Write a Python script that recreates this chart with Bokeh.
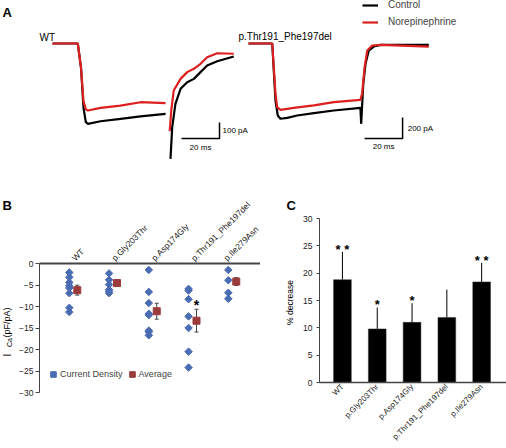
from math import pi
from bokeh.plotting import figure
from bokeh.layouts import column, row
from bokeh.models import Range1d, Legend, LegendItem, Label, FixedTicker
from bokeh.core.properties import value
from bokeh.embed import file_html
from bokeh.resources import INLINE

FONT = "Liberation Sans"
nan = float("nan")
RED = "#dd1f1f"
BLUE = "#4a6cb3"
MAROON = "#9b3b3b"

# ---------------- Panel A: current traces (time in ms, current in pA) ----------------
wt_ctrl_t = [0, 13.3, 15.0, 16.3, 17.5, 18.6, 25.3, 35.8, 46.3, 59.5, nan,
             62.1, 63.0, 64.7, 67.4, 70.9, 74.4, 77.9, 81.4, 86.7, 95.4]
wt_ctrl_i = [0, 0, -150, -400, -490, -502, -486, -471, -456, -440, nan,
             -721, -523, -377, -283, -242, -221, -179, -138, -111, -81]
wt_ne_t = [0, 13.3, 15.0, 16.3, 17.5, 18.6, 25.3, 35.8, 46.3, 59.5, nan,
           61.7, 62.5, 63.8, 67.4, 70.9, 74.4, 77.9, 81.4, 86.7, 95.4]
wt_ne_i = [0, 0, -150, -360, -410, -419, -402, -388, -367, -373, nan,
           -548, -419, -294, -221, -179, -158, -127, -86, -61, -64]

mut_ctrl_t = [0, 12.5, 14.2, 15.4, 16.8, 20.4, 25.6, 34.4, 44.9, 58.9, 59.3,
              60.4, 61.6, 63.3, 66.0, 69.5, 94.9]
mut_ctrl_i = [0, 0, -543, -686, -717, -708, -686, -663, -638, -613, -765,
              -384, -193, -67, -29, -13, -13]
mut_ne_t = [0, 12.5, 14.2, 15.1, 16.8, 23.9, 34.4, 44.9, 58.9, 59.8, 61.1,
            62.5, 65.1, 69.5, 94.9]
mut_ne_i = [0, 0, -479, -606, -632, -613, -590, -559, -537, -479, -225,
            -67, -19, -13, -29]

scale_ms = 20
wt_scale_pA = 100
mut_scale_pA = 200

# ---------------- Panel B / C data ----------------
categories = ["WT", "p.Gly203Thr", "p.Asp174Gly", "p.Thr191_Phe197del", "p.Ile279Asn"]

wt_density = [-2.1, -3.2, -4.4, -5.2, -5.7, -6.9, -10.3, -11.3]
gly_density = [-2.3, -3.8, -4.9, -6.1, -6.5, -6.9]
asp_density = [-1.5, -6.6, -9.2, -11.7, -12.0, -15.6, -15.9, -16.7]
thr_density = [-5.9, -6.3, -8.3, -12.3, -15.0, -20.5, -24.2]
ile_density = [-1.5, -3.9, -6.8, -8.2]

avg_density = [-6.2, -4.55, -11.1, -13.3, -4.2]
sem_density = [1.15, 0.6, 1.85, 2.65, 0.9]
b_sig = ["", "", "", "*", ""]

pct_decrease = [18.8, 9.8, 11.0, 11.9, 18.4]
pct_sem = [5.1, 3.9, 3.5, 5.1, 3.5]
c_sig = ["* *", "*", "*", "", "* *"]


def lab(fig, x, y, text, size, bold=False, **kw):
    kw.setdefault("text_baseline", "alphabetic")
    fig.add_layout(Label(x=x, y=y, text=text, text_font=FONT,
                         text_font_size=f"{size}px",
                         text_font_style="bold" if bold else "normal",
                         text_color="black", **kw))


def strip(width, height):
    # a plain text strip (no axes) whose data units are pixels
    s = figure(width=width, height=height, x_range=Range1d(0, width), y_range=Range1d(0, height),
               x_axis_type=None, y_axis_type=None, output_backend="svg",
               toolbar_location=None, min_border=0)
    s.outline_line_color = None
    s.frame_align = False
    return s


# ================= Panel A =================
pa = figure(width=506, height=180, x_range=Range1d(-27.37, 238.95),
            y_range=Range1d(-856.25, 268.75), x_axis_type=None, y_axis_type=None,
            output_backend="svg", toolbar_location=None, min_border=0)
pa.outline_line_color = None
pa.frame_align = False
pa.extra_x_ranges = {"mut": Range1d(-130.53, 135.79)}
pa.extra_y_ranges = {"mut": Range1d(-1304.8, 409.5)}

r_ctrl = pa.line(wt_ctrl_t, wt_ctrl_i, line_color="black", line_width=2.2)
r_ne = pa.line(wt_ne_t, wt_ne_i, line_color=RED, line_width=2.2)
pa.line(mut_ctrl_t, mut_ctrl_i, line_color="black", line_width=2.2,
        x_range_name="mut", y_range_name="mut")
pa.line(mut_ne_t, mut_ne_i, line_color=RED, line_width=2.2,
        x_range_name="mut", y_range_name="mut")

# scale bars
wx, wy = 87.9, -594
pa.line([wx - scale_ms, wx, wx], [wy, wy, wy + wt_scale_pA], line_color="black", line_width=1.5)
mx, my = 81.1, -905
pa.line([mx - scale_ms, mx, mx], [my, my, my + mut_scale_pA], line_color="black",
        line_width=1.5, x_range_name="mut", y_range_name="mut")

lab(pa, wx + 1.6, wy + wt_scale_pA / 2, f"{wt_scale_pA} pA", 8, text_baseline="middle")
lab(pa, wx - scale_ms / 2, wy - 25, f"{scale_ms} ms", 8, text_align="center", text_baseline="top")
lab(pa, mx + 2.7, my + mut_scale_pA / 2, f"{mut_scale_pA} pA", 8, text_baseline="middle",
    x_range_name="mut", y_range_name="mut")
lab(pa, mx - scale_ms / 2, my - 35, f"{scale_ms} ms", 8, text_align="center", text_baseline="top",
    x_range_name="mut", y_range_name="mut")

lab(pa, -26.3, 196, "A", 13, bold=True)
lab(pa, -6.8, 36, "WT", 10)
lab(pa, -5.3, 67, "p.Thr191_Phe197del", 10, x_range_name="mut", y_range_name="mut")

leg_a = Legend(items=[LegendItem(label="Control", renderers=[r_ctrl]),
                      LegendItem(label="Norepinephrine", renderers=[r_ne])],
               location=(362, 153), glyph_width=16, glyph_height=10, label_height=10,
               spacing=6, padding=0, margin=0, label_standoff=10,
               label_text_font=FONT, label_text_font_size="10px",
               border_line_color=None, background_fill_alpha=0)
pa.add_layout(leg_a)

ROW_H = 268

# ================= Panel B =================
sb = strip(16, ROW_H)
lab(sb, 2, 243, "B", 13, bold=True)
lab(sb, 6.7, 92, "I", 10, angle=pi / 2, text_baseline="middle")
lab(sb, 8.6, 101.5, "Ca", 7, angle=pi / 2, text_baseline="middle")
lab(sb, 6.3, 111, "(pF/pA)", 9, angle=pi / 2, text_baseline="middle")

pb = figure(width=244, height=ROW_H, x_range=Range1d(0.15, 5.71), y_range=Range1d(-30, 0),
            x_axis_location="above", output_backend="svg", toolbar_location=None,
            min_border_left=22, min_border_right=0, min_border_top=83, min_border_bottom=56)
pb.outline_line_color = None
pb.frame_align = False
pb.grid.visible = False

groups = [wt_density, gly_density, asp_density, thr_density, ile_density]
px, py = [], []
for i, g in enumerate(groups):
    px += [i + 1 - 0.1] * len(g)
    py += g
ax = [i + 1 + 0.1 for i in range(len(categories))]
lo = [m - s for m, s in zip(avg_density, sem_density)]
hi = [m + s for m, s in zip(avg_density, sem_density)]

r_pts = pb.scatter(px, py, marker="square", angle=pi / 4, size=5.3, color=BLUE)
pb.segment(ax, lo, ax, hi, line_color="#444444", line_width=1)
pb.segment([x - 0.05 for x in ax], lo, [x + 0.05 for x in ax], lo, line_color="#444444", line_width=1)
pb.segment([x - 0.05 for x in ax], hi, [x + 0.05 for x in ax], hi, line_color="#444444", line_width=1)
r_avg = pb.scatter(ax, avg_density, marker="square", size=7, color=MAROON)
pb.text(ax, [h + 1.0 for h in hi], text=b_sig, text_font=value(FONT), text_font_size="14px",
        text_font_style="bold", text_align="center", text_baseline="alphabetic")

pb.xaxis.ticker = FixedTicker(ticks=[1, 2, 3, 4, 5])
pb.xaxis.major_label_overrides = {i + 1: c for i, c in enumerate(categories)}
pb.xaxis.major_label_orientation = pi / 4
pb.xaxis.major_tick_out = 0
pb.xaxis.minor_tick_line_color = None
pb.xaxis.axis_line_width = 2
pb.xaxis.major_label_standoff = 4
pb.yaxis.ticker = FixedTicker(ticks=[0, -5, -10, -15, -20, -25, -30])
pb.yaxis.minor_tick_line_color = None
pb.yaxis.major_tick_out = 4
pb.yaxis.major_tick_in = 0
pb.yaxis.major_label_standoff = 2
for axis in (pb.xaxis, pb.yaxis):
    axis.axis_line_color = "#444444"
    axis.major_label_text_font = FONT
    axis.major_label_text_font_size = "8.5px"
    axis.major_label_text_color = "#222222"
pb.xaxis.major_tick_line_color = None
pb.yaxis.major_tick_line_color = "#444444"

leg_b = Legend(items=[LegendItem(label="Current Density", renderers=[r_pts]),
                      LegendItem(label="Average", renderers=[r_avg])],
               orientation="horizontal", location=(7, 11), glyph_width=14, glyph_height=14,
               label_height=14, label_standoff=0, spacing=2, padding=0, margin=0,
               label_text_font=FONT, label_text_font_size="9px",
               border_line_color=None, background_fill_alpha=0)
pb.add_layout(leg_b)

# ================= Panel C =================
sc = strip(40, ROW_H)
lab(sc, 26, 243, "C", 13, bold=True)
lab(sc, 29.3, 146, "% decrease", 8.5, angle=pi / 2, text_align="center", text_baseline="middle")

pc = figure(width=206, height=ROW_H, x_range=Range1d(0.341, 5.714), y_range=Range1d(0, 30),
            output_backend="svg", toolbar_location=None,
            min_border_left=19, min_border_right=0, min_border_top=38, min_border_bottom=66)
pc.outline_line_color = None
pc.frame_align = False
pc.grid.visible = False

cx = [i + 1 for i in range(len(categories))]
ctop = [m + s for m, s in zip(pct_decrease, pct_sem)]
pc.segment(cx, pct_decrease, cx, ctop, line_color="black", line_width=1)
pc.vbar(x=cx, top=pct_decrease, width=0.51, fill_color="black", line_color="#333333", line_width=0.5)
pc.text(cx, [t + 0.5 for t in ctop], text=c_sig, text_font=value(FONT), text_font_size="13px",
        text_font_style="bold", text_align="center", text_baseline="alphabetic")

pc.xaxis.ticker = FixedTicker(ticks=cx)
pc.xaxis.major_label_overrides = {i + 1: c for i, c in enumerate(categories)}
pc.xaxis.major_label_orientation = pi / 4
pc.xaxis.major_tick_out = 0
pc.xaxis.major_tick_line_color = None
pc.xaxis.minor_tick_line_color = None
pc.xaxis.major_label_standoff = 3
pc.xaxis.axis_line_width = 1.5
pc.yaxis.ticker = FixedTicker(ticks=[0, 5, 10, 15, 20, 25, 30])
pc.yaxis.minor_tick_line_color = None
pc.yaxis.major_tick_out = 3
pc.yaxis.major_tick_in = 0
pc.yaxis.major_label_standoff = 4
for axis in (pc.xaxis, pc.yaxis):
    axis.axis_line_color = "#444444"
    axis.major_label_text_font = FONT
    axis.major_label_text_font_size = "8.5px"
    axis.major_label_text_color = "#222222"
pc.xaxis.major_label_text_font_size = "8px"
pc.yaxis.major_tick_line_color = "#444444"

layout = column(pa, row(sb, pb, sc, pc))
open("out.html", "w").write(file_html(layout, INLINE))
